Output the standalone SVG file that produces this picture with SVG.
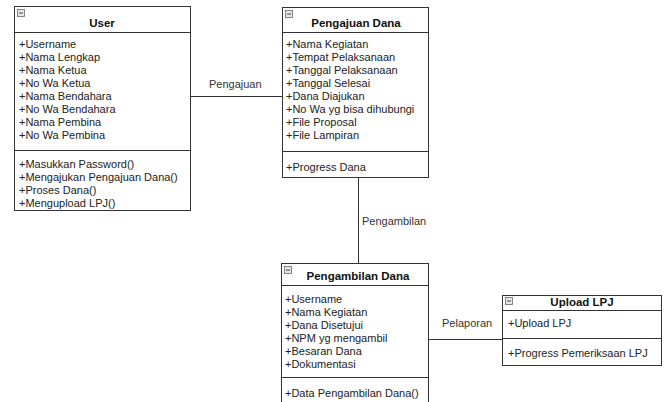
<svg xmlns="http://www.w3.org/2000/svg" width="670" height="402" viewBox="0 0 670 402">
<defs>
<g id="icon"><rect x="0" y="0" width="7" height="7" fill="#e6e6e6" stroke="#666" stroke-width="0.8"/><line x1="1.5" y1="3.5" x2="5.5" y2="3.5" stroke="#444" stroke-width="1"/></g>
</defs>
<style>
.box{fill:#fff;stroke:#333;stroke-width:1}
.ln{stroke:#333;stroke-width:1;fill:none}
.t{font-family:"Liberation Sans",Arial,sans-serif;font-size:11px;fill:#222}
.h{font-family:"Liberation Sans",Arial,sans-serif;font-size:11.5px;font-weight:bold;fill:#111;text-anchor:middle}
.lbl{font-family:"Liberation Sans",Arial,sans-serif;font-size:11px;fill:#333}
</style>
<rect width="670" height="402" fill="#fff"/>
<g id="connectors">
<line class="ln" x1="190" y1="96.5" x2="282" y2="96.5"/>
<text class="lbl" x="209" y="88">Pengajuan</text>
<line class="ln" x1="358.5" y1="177" x2="358.5" y2="263"/>
<text class="lbl" x="362" y="225">Pengambilan</text>
<line class="ln" x1="429" y1="339.5" x2="502" y2="339.5"/>
<text class="lbl" x="442" y="327">Pelaporan</text>
</g>
<g id="user">
<rect class="box" x="14.5" y="6.5" width="176" height="204"/>
<line class="ln" x1="14.5" y1="32.5" x2="190.5" y2="32.5"/>
<line class="ln" x1="14.5" y1="150.5" x2="190.5" y2="150.5"/>
<use href="#icon" x="17.5" y="9.5"/>
<text class="h" x="102" y="27">User</text>
<text class="t" x="19" y="48">+Username</text>
<text class="t" x="19" y="61">+Nama Lengkap</text>
<text class="t" x="19" y="74">+Nama Ketua</text>
<text class="t" x="19" y="87">+No Wa Ketua</text>
<text class="t" x="19" y="100">+Nama Bendahara</text>
<text class="t" x="19" y="113">+No Wa Bendahara</text>
<text class="t" x="19" y="126">+Nama Pembina</text>
<text class="t" x="19" y="139">+No Wa Pembina</text>
<text class="t" x="19" y="168">+Masukkan Password()</text>
<text class="t" x="19" y="181">+Mengajukan Pengajuan Dana()</text>
<text class="t" x="19" y="194">+Proses Dana()</text>
<text class="t" x="19" y="207">+Mengupload LPJ()</text>
</g>
<g id="pengajuan">
<rect class="box" x="282.5" y="7.5" width="146" height="170"/>
<line class="ln" x1="282.5" y1="32.5" x2="428.5" y2="32.5"/>
<line class="ln" x1="282.5" y1="151.5" x2="428.5" y2="151.5"/>
<use href="#icon" x="285.5" y="10.5"/>
<text class="h" x="356" y="27">Pengajuan Dana</text>
<text class="t" x="286" y="48">+Nama Kegiatan</text>
<text class="t" x="286" y="61">+Tempat Pelaksanaan</text>
<text class="t" x="286" y="74">+Tanggal Pelaksanaan</text>
<text class="t" x="286" y="87">+Tanggal Selesai</text>
<text class="t" x="286" y="100">+Dana Diajukan</text>
<text class="t" x="286" y="113">+No Wa yg bisa dihubungi</text>
<text class="t" x="286" y="126">+File Proposal</text>
<text class="t" x="286" y="139">+File Lampiran</text>
<text class="t" x="286" y="170.5">+Progress Dana</text>
</g>
<g id="pengambilan">
<rect class="box" x="281.5" y="263.5" width="147" height="145"/>
<line class="ln" x1="281.5" y1="285.5" x2="428.5" y2="285.5"/>
<line class="ln" x1="281.5" y1="377.5" x2="428.5" y2="377.5"/>
<use href="#icon" x="284.5" y="266.5"/>
<text class="h" x="358" y="280">Pengambilan Dana</text>
<text class="t" x="285" y="303">+Username</text>
<text class="t" x="285" y="316">+Nama Kegiatan</text>
<text class="t" x="285" y="329">+Dana Disetujui</text>
<text class="t" x="285" y="342">+NPM yg mengambil</text>
<text class="t" x="285" y="355">+Besaran Dana</text>
<text class="t" x="285" y="368">+Dokumentasi</text>
<text class="t" x="285" y="397">+Data Pengambilan Dana()</text>
</g>
<g id="upload">
<rect class="box" x="502.5" y="295.5" width="159" height="70"/>
<line class="ln" x1="502.5" y1="310.5" x2="661.5" y2="310.5"/>
<line class="ln" x1="502.5" y1="338.5" x2="661.5" y2="338.5"/>
<use href="#icon" x="505.5" y="297.5"/>
<text class="h" x="582" y="306">Upload LPJ</text>
<text class="t" x="508" y="327">+Upload LPJ</text>
<text class="t" x="508" y="357">+Progress Pemeriksaan LPJ</text>
</g>
</svg>
